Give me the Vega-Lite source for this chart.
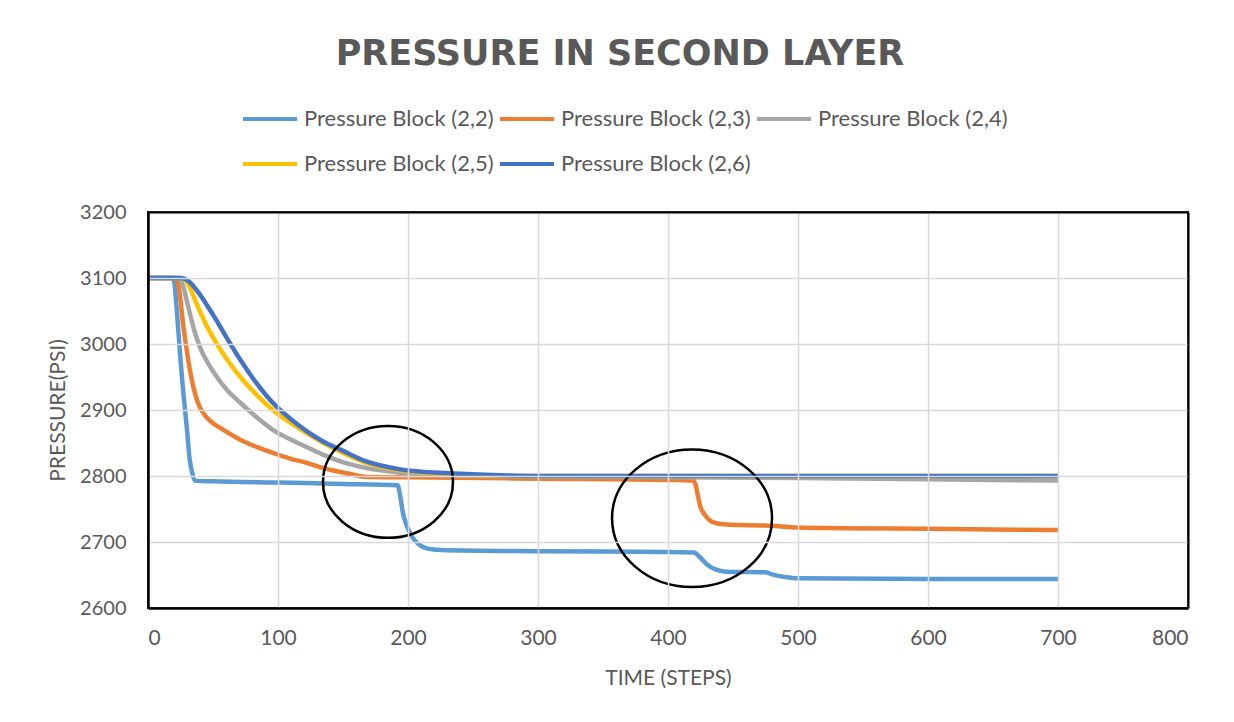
{
  "$schema": "https://vega.github.io/schema/vega-lite/v6.json",
  "width": 1040,
  "height": 396,
  "autosize": "none",
  "padding": {"left": 148, "top": 212, "right": 46, "bottom": 114},
  "background": "white",
  "title": {
    "text": "PRESSURE IN SECOND LAYER",
    "font": "DejaVu Sans",
    "fontSize": 35,
    "fontWeight": "bold",
    "color": "#595959",
    "anchor": "middle",
    "dx": -48,
    "offset": 18
  },
  "datasets": {
    "series": [
      {"t": 0, "p": 3100, "s": "Pressure Block (2,2)"},
      {"t": 10, "p": 3100, "s": "Pressure Block (2,2)"},
      {"t": 18, "p": 3100, "s": "Pressure Block (2,2)"},
      {"t": 20, "p": 3096, "s": "Pressure Block (2,2)"},
      {"t": 22, "p": 3055, "s": "Pressure Block (2,2)"},
      {"t": 25, "p": 2976, "s": "Pressure Block (2,2)"},
      {"t": 27, "p": 2930, "s": "Pressure Block (2,2)"},
      {"t": 30, "p": 2870, "s": "Pressure Block (2,2)"},
      {"t": 32, "p": 2826, "s": "Pressure Block (2,2)"},
      {"t": 34, "p": 2805, "s": "Pressure Block (2,2)"},
      {"t": 36, "p": 2793, "s": "Pressure Block (2,2)"},
      {"t": 50, "p": 2792, "s": "Pressure Block (2,2)"},
      {"t": 100, "p": 2790, "s": "Pressure Block (2,2)"},
      {"t": 150, "p": 2788, "s": "Pressure Block (2,2)"},
      {"t": 192, "p": 2786, "s": "Pressure Block (2,2)"},
      {"t": 194, "p": 2770, "s": "Pressure Block (2,2)"},
      {"t": 196, "p": 2745, "s": "Pressure Block (2,2)"},
      {"t": 199, "p": 2725, "s": "Pressure Block (2,2)"},
      {"t": 203, "p": 2708, "s": "Pressure Block (2,2)"},
      {"t": 208, "p": 2697, "s": "Pressure Block (2,2)"},
      {"t": 215, "p": 2690, "s": "Pressure Block (2,2)"},
      {"t": 225, "p": 2688, "s": "Pressure Block (2,2)"},
      {"t": 300, "p": 2686, "s": "Pressure Block (2,2)"},
      {"t": 400, "p": 2685, "s": "Pressure Block (2,2)"},
      {"t": 420, "p": 2684, "s": "Pressure Block (2,2)"},
      {"t": 424, "p": 2678, "s": "Pressure Block (2,2)"},
      {"t": 430, "p": 2666, "s": "Pressure Block (2,2)"},
      {"t": 437, "p": 2658, "s": "Pressure Block (2,2)"},
      {"t": 445, "p": 2655, "s": "Pressure Block (2,2)"},
      {"t": 475, "p": 2654, "s": "Pressure Block (2,2)"},
      {"t": 480, "p": 2651, "s": "Pressure Block (2,2)"},
      {"t": 490, "p": 2647, "s": "Pressure Block (2,2)"},
      {"t": 500, "p": 2645, "s": "Pressure Block (2,2)"},
      {"t": 600, "p": 2644, "s": "Pressure Block (2,2)"},
      {"t": 700, "p": 2644, "s": "Pressure Block (2,2)"},

      {"t": 0, "p": 3100, "s": "Pressure Block (2,3)"},
      {"t": 20, "p": 3100, "s": "Pressure Block (2,3)"},
      {"t": 22, "p": 3097, "s": "Pressure Block (2,3)"},
      {"t": 24, "p": 3082, "s": "Pressure Block (2,3)"},
      {"t": 27, "p": 3030, "s": "Pressure Block (2,3)"},
      {"t": 30, "p": 2988, "s": "Pressure Block (2,3)"},
      {"t": 32, "p": 2963, "s": "Pressure Block (2,3)"},
      {"t": 35, "p": 2934, "s": "Pressure Block (2,3)"},
      {"t": 37.5, "p": 2916, "s": "Pressure Block (2,3)"},
      {"t": 41, "p": 2900, "s": "Pressure Block (2,3)"},
      {"t": 45, "p": 2889, "s": "Pressure Block (2,3)"},
      {"t": 50, "p": 2880, "s": "Pressure Block (2,3)"},
      {"t": 58, "p": 2870, "s": "Pressure Block (2,3)"},
      {"t": 71, "p": 2855, "s": "Pressure Block (2,3)"},
      {"t": 85, "p": 2843, "s": "Pressure Block (2,3)"},
      {"t": 96, "p": 2835, "s": "Pressure Block (2,3)"},
      {"t": 110, "p": 2826, "s": "Pressure Block (2,3)"},
      {"t": 122, "p": 2820, "s": "Pressure Block (2,3)"},
      {"t": 135, "p": 2812, "s": "Pressure Block (2,3)"},
      {"t": 148, "p": 2806, "s": "Pressure Block (2,3)"},
      {"t": 158, "p": 2802, "s": "Pressure Block (2,3)"},
      {"t": 166, "p": 2799, "s": "Pressure Block (2,3)"},
      {"t": 200, "p": 2798, "s": "Pressure Block (2,3)"},
      {"t": 300, "p": 2796, "s": "Pressure Block (2,3)"},
      {"t": 400, "p": 2794, "s": "Pressure Block (2,3)"},
      {"t": 419, "p": 2793, "s": "Pressure Block (2,3)"},
      {"t": 421, "p": 2788, "s": "Pressure Block (2,3)"},
      {"t": 423, "p": 2770, "s": "Pressure Block (2,3)"},
      {"t": 425, "p": 2753, "s": "Pressure Block (2,3)"},
      {"t": 428, "p": 2742, "s": "Pressure Block (2,3)"},
      {"t": 432, "p": 2733, "s": "Pressure Block (2,3)"},
      {"t": 438, "p": 2728, "s": "Pressure Block (2,3)"},
      {"t": 448, "p": 2726, "s": "Pressure Block (2,3)"},
      {"t": 475, "p": 2725, "s": "Pressure Block (2,3)"},
      {"t": 500, "p": 2722, "s": "Pressure Block (2,3)"},
      {"t": 532, "p": 2721, "s": "Pressure Block (2,3)"},
      {"t": 600, "p": 2720, "s": "Pressure Block (2,3)"},
      {"t": 700, "p": 2718, "s": "Pressure Block (2,3)"},

      {"t": 0, "p": 3100, "s": "Pressure Block (2,4)"},
      {"t": 22, "p": 3100, "s": "Pressure Block (2,4)"},
      {"t": 24, "p": 3099, "s": "Pressure Block (2,4)"},
      {"t": 27, "p": 3088, "s": "Pressure Block (2,4)"},
      {"t": 30, "p": 3064, "s": "Pressure Block (2,4)"},
      {"t": 33, "p": 3040, "s": "Pressure Block (2,4)"},
      {"t": 36, "p": 3018, "s": "Pressure Block (2,4)"},
      {"t": 40, "p": 2995, "s": "Pressure Block (2,4)"},
      {"t": 45, "p": 2975, "s": "Pressure Block (2,4)"},
      {"t": 53, "p": 2950, "s": "Pressure Block (2,4)"},
      {"t": 60, "p": 2932, "s": "Pressure Block (2,4)"},
      {"t": 71, "p": 2911, "s": "Pressure Block (2,4)"},
      {"t": 83, "p": 2890, "s": "Pressure Block (2,4)"},
      {"t": 96, "p": 2870, "s": "Pressure Block (2,4)"},
      {"t": 110, "p": 2855, "s": "Pressure Block (2,4)"},
      {"t": 122, "p": 2844, "s": "Pressure Block (2,4)"},
      {"t": 135, "p": 2832, "s": "Pressure Block (2,4)"},
      {"t": 148, "p": 2822, "s": "Pressure Block (2,4)"},
      {"t": 168, "p": 2812, "s": "Pressure Block (2,4)"},
      {"t": 194, "p": 2805, "s": "Pressure Block (2,4)"},
      {"t": 232, "p": 2801, "s": "Pressure Block (2,4)"},
      {"t": 300, "p": 2799, "s": "Pressure Block (2,4)"},
      {"t": 400, "p": 2798, "s": "Pressure Block (2,4)"},
      {"t": 500, "p": 2797, "s": "Pressure Block (2,4)"},
      {"t": 600, "p": 2795, "s": "Pressure Block (2,4)"},
      {"t": 700, "p": 2793, "s": "Pressure Block (2,4)"},

      {"t": 0, "p": 3100, "s": "Pressure Block (2,5)"},
      {"t": 26, "p": 3100, "s": "Pressure Block (2,5)"},
      {"t": 29, "p": 3096, "s": "Pressure Block (2,5)"},
      {"t": 33, "p": 3082, "s": "Pressure Block (2,5)"},
      {"t": 38, "p": 3058, "s": "Pressure Block (2,5)"},
      {"t": 45, "p": 3028, "s": "Pressure Block (2,5)"},
      {"t": 53, "p": 3000, "s": "Pressure Block (2,5)"},
      {"t": 62, "p": 2973, "s": "Pressure Block (2,5)"},
      {"t": 71, "p": 2950, "s": "Pressure Block (2,5)"},
      {"t": 83, "p": 2924, "s": "Pressure Block (2,5)"},
      {"t": 96, "p": 2900, "s": "Pressure Block (2,5)"},
      {"t": 110, "p": 2880, "s": "Pressure Block (2,5)"},
      {"t": 122, "p": 2865, "s": "Pressure Block (2,5)"},
      {"t": 135, "p": 2850, "s": "Pressure Block (2,5)"},
      {"t": 148, "p": 2837, "s": "Pressure Block (2,5)"},
      {"t": 168, "p": 2820, "s": "Pressure Block (2,5)"},
      {"t": 190, "p": 2810, "s": "Pressure Block (2,5)"},
      {"t": 207, "p": 2806, "s": "Pressure Block (2,5)"},
      {"t": 230, "p": 2803, "s": "Pressure Block (2,5)"},
      {"t": 260, "p": 2801, "s": "Pressure Block (2,5)"},
      {"t": 300, "p": 2800, "s": "Pressure Block (2,5)"},
      {"t": 700, "p": 2800, "s": "Pressure Block (2,5)"},

      {"t": 0, "p": 3100, "s": "Pressure Block (2,6)"},
      {"t": 25, "p": 3100, "s": "Pressure Block (2,6)"},
      {"t": 29, "p": 3098, "s": "Pressure Block (2,6)"},
      {"t": 33, "p": 3092, "s": "Pressure Block (2,6)"},
      {"t": 38, "p": 3080, "s": "Pressure Block (2,6)"},
      {"t": 45, "p": 3060, "s": "Pressure Block (2,6)"},
      {"t": 52, "p": 3038, "s": "Pressure Block (2,6)"},
      {"t": 58, "p": 3018, "s": "Pressure Block (2,6)"},
      {"t": 65, "p": 2995, "s": "Pressure Block (2,6)"},
      {"t": 71, "p": 2976, "s": "Pressure Block (2,6)"},
      {"t": 83, "p": 2942, "s": "Pressure Block (2,6)"},
      {"t": 96, "p": 2911, "s": "Pressure Block (2,6)"},
      {"t": 110, "p": 2886, "s": "Pressure Block (2,6)"},
      {"t": 122, "p": 2868, "s": "Pressure Block (2,6)"},
      {"t": 135, "p": 2852, "s": "Pressure Block (2,6)"},
      {"t": 148, "p": 2840, "s": "Pressure Block (2,6)"},
      {"t": 168, "p": 2822, "s": "Pressure Block (2,6)"},
      {"t": 194, "p": 2810, "s": "Pressure Block (2,6)"},
      {"t": 232, "p": 2804, "s": "Pressure Block (2,6)"},
      {"t": 271, "p": 2801, "s": "Pressure Block (2,6)"},
      {"t": 300, "p": 2800, "s": "Pressure Block (2,6)"},
      {"t": 700, "p": 2800, "s": "Pressure Block (2,6)"}
    ],
    "rings": [
      {"t": 184.6, "p": 2791, "ring": "first"},
      {"t": 418.5, "p": 2736, "ring": "second"}
    ]
  },
  "config": {
    "view": {"stroke": "black", "strokeWidth": 2},
    "axis": {
      "labelFont": "Lato",
      "labelFontSize": 20,
      "labelColor": "#595959",
      "titleFont": "Lato",
      "titleFontSize": 21,
      "titleFontWeight": "normal",
      "titleColor": "#595959",
      "ticks": false,
      "domain": false,
      "gridColor": "#D9D9D9",
      "gridWidth": 1.5
    },
    "legend": {
      "orient": "none",
      "legendX": 93,
      "legendY": -122,
      "direction": "horizontal",
      "columns": 3,
      "symbolType": "stroke",
      "symbolSize": 2916,
      "symbolStrokeWidth": 4,
      "labelFont": "Lato",
      "labelFontSize": 22,
      "labelColor": "#595959",
      "labelOffset": 5,
      "labelLimit": 400,
      "columnPadding": -2,
      "rowPadding": 5
    }
  },
  "resolve": {"axis": {"x": "independent", "y": "independent"}},
  "layer": [
    {
      "data": {"name": "series"},
      "mark": {"type": "line", "strokeWidth": 4.5, "interpolate": "monotone"},
      "encoding": {
        "x": {
          "field": "t",
          "type": "quantitative",
          "scale": {"domain": [0, 800], "nice": false},
          "axis": {
            "orient": "bottom",
            "title": "TIME (STEPS)",
            "values": [0, 100, 200, 300, 400, 500, 600, 700, 800],
            "labelFontSize": 21,
            "labelPadding": 19,
            "titlePadding": 19,
            "domain": true,
            "domainColor": "black",
            "domainWidth": 2.5,
            "zindex": 1
          }
        },
        "y": {
          "field": "p",
          "type": "quantitative",
          "scale": {"domain": [2600, 3200], "nice": false, "zero": false},
          "axis": {
            "orient": "left",
            "title": "PRESSURE(PSI)",
            "format": "d",
            "values": [2600, 2700, 2800, 2900, 3000, 3100, 3200],
            "labelPadding": 22,
            "titlePadding": 11,
            "domain": true,
            "domainColor": "black",
            "domainWidth": 2.5,
            "zindex": 1
          }
        },
        "color": {
          "field": "s",
          "type": "nominal",
          "title": null,
          "scale": {
            "domain": ["Pressure Block (2,2)", "Pressure Block (2,3)", "Pressure Block (2,4)", "Pressure Block (2,5)", "Pressure Block (2,6)"],
            "range": ["#5B9BD5", "#ED7D31", "#A5A5A5", "#FFC000", "#4472C4"]
          }
        }
      }
    },
    {
      "data": {"name": "rings"},
      "transform": [{"filter": "datum.ring === 'first'"}],
      "mark": {
        "type": "point",
        "shape": "M -1 0 A 1 0.86 0 1 0 1 0 A 1 0.86 0 1 0 -1 0 Z",
        "size": 16900,
        "filled": false,
        "stroke": "black",
        "strokeWidth": 2.5,
        "opacity": 1
      },
      "encoding": {
        "x": {
          "field": "t",
          "type": "quantitative",
          "axis": {
            "orient": "top",
            "title": null,
            "labels": false,
            "grid": false,
            "ticks": false,
            "domain": true,
            "domainColor": "black",
            "domainWidth": 2,
            "zindex": 1
          }
        },
        "y": {
          "field": "p",
          "type": "quantitative",
          "axis": {
            "orient": "right",
            "title": null,
            "labels": false,
            "grid": false,
            "ticks": false,
            "domain": true,
            "domainColor": "black",
            "domainWidth": 2,
            "zindex": 1
          }
        }
      }
    },
    {
      "data": {"name": "rings"},
      "transform": [{"filter": "datum.ring === 'second'"}],
      "mark": {
        "type": "point",
        "shape": "M -1 0 A 1 0.86 0 1 0 1 0 A 1 0.86 0 1 0 -1 0 Z",
        "size": 25600,
        "filled": false,
        "stroke": "black",
        "strokeWidth": 2.5,
        "opacity": 1
      },
      "encoding": {
        "x": {"field": "t", "type": "quantitative", "axis": null},
        "y": {"field": "p", "type": "quantitative", "axis": null}
      }
    }
  ]
}
